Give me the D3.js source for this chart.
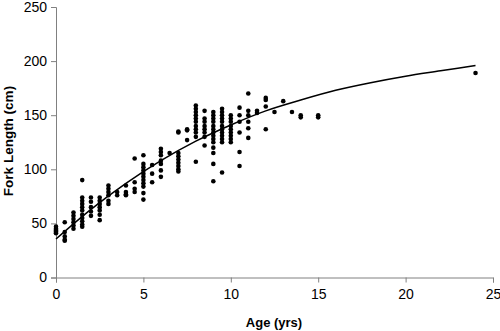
<!DOCTYPE html>
<html><head><meta charset="utf-8">
<script src="https://cdn.jsdelivr.net/npm/d3@7"></script>
<style>body{margin:0;background:#fff}svg{display:block}</style>
</head><body>
<svg id="chart" width="500" height="331"></svg>
<script>
// Observed data: ages (yrs) and fork lengths (cm)
const ages = [
 0,0,0,0,0,0,
 0.5,0.5,0.5,0.5,0.5,
 1,1,1,1,1,1,
 1.5,1.5,1.5,1.5,1.5,1.5,1.5,1.5,1.5,1.5,1.5,
 2,2,2,2,2,
 2.5,2.5,2.5,2.5,2.5,2.5,2.5,
 3,3,3,3,3,3,
 3.5,3.5,
 4,4,4,4,
 4.5,4.5,4.5,4.5,
 5,5,5,5,5,5,5,5,5,5,5,
 5.5,5.5,5.5,
 6,6,6,6,6,6,6,
 6.5,
 7,7,7,7,7,7,7,7,7,
 7.5,7.5,7.5,
 8,8,8,8,8,8,8,8,8,8,8,
 8.5,8.5,8.5,8.5,8.5,8.5,8.5,8.5,
 9,9,9,9,9,9,9,9,9,9,9,9,9,9,
 9.5,9.5,9.5,9.5,9.5,9.5,9.5,9.5,9.5,9.5,9.5,9.5,
 10,10,10,10,10,10,10,10,10,
 10.5,10.5,10.5,10.5,10.5,10.5,
 11,11,11,11,11,11,
 11.5,11.5,
 12,12,12,12,
 12.5,
 13,
 13.5,
 14,14,
 15,15,
 24
];
const lengths = [
 47,45,44,43,42,41,
 51,42,38,35,34,
 60,57,54,51,48,45,
 90,74,71,68,65,62,58,55,52,49,47,
 74,70,65,61,57,
 74,71,68,65,62,58,53,
 85,82,79,76,71,68,
 79,76,
 85,79,77,76,
 110,88,82,79,
 113,105,102,99,96,93,90,87,84,78,72,
 104,96,88,
 119,116,113,108,105,99,93,
 115,
 135,134,112,109,106,103,100,98,115,
 137,136,127,
 159,156,153,150,147,144,140,137,134,130,107,
 154,147,144,140,137,134,130,122,
 153,150,147,144,140,137,134,131,128,125,120,115,105,89,
 156,153,150,147,144,140,137,134,131,128,125,97,
 150,147,144,140,137,134,131,128,125,
 157,150,144,134,116,103,
 170,154,150,144,138,129,
 154,152,
 166,164,158,137,
 153,
 163,
 153,
 150,148,
 150,148,
 189
];
// Fitted growth curve
const curveAges = [0,2,4,6,8,10,12,14,16,18,20,22,24];
const curveLengths = [35.6,63,87,108,126,141,154,164,173,180,186,191,196];

const xTicks = [0,5,10,15,20,25];
const yTicks = [0,50,100,150,200,250];

const svg = d3.select("#chart");
const x = d3.scaleLinear().domain([0,25]).range([56,493]);
const y = d3.scaleLinear().domain([0,250]).range([277.5,7]);
const axisColor = "#808080";
const font = "'Liberation Sans', Arial, sans-serif";

// y axis
const yAxis = svg.append("g").attr("transform","translate(56,0)")
  .call(d3.axisLeft(y).tickValues(yTicks).tickSize(5).tickPadding(4));
// x axis
const xAxis = svg.append("g").attr("transform","translate(0,277.5)")
  .call(d3.axisBottom(x).tickValues(xTicks).tickSize(5).tickPadding(7));
[yAxis,xAxis].forEach(a=>{
  a.select(".domain").attr("stroke",axisColor).attr("stroke-width",1);
  a.selectAll(".tick line").attr("stroke",axisColor);
  a.selectAll("text").attr("fill","#000").style("font-family",font).style("font-size","14px");
});

// points
const pts = ages.map((a,i)=>({a, l:lengths[i]}));
svg.append("g").selectAll("circle").data(pts).join("circle")
  .attr("cx",d=>x(d.a)).attr("cy",d=>y(d.l)).attr("r",2.3)
  .attr("fill","#000");

// fitted curve
const line = d3.line().x((d,i)=>x(curveAges[i])).y(d=>y(d)).curve(d3.curveMonotoneX);
svg.append("path").datum(curveLengths).attr("d",line)
  .attr("fill","none").attr("stroke","#000").attr("stroke-width",1.5);

// axis titles
svg.append("text").attr("x",274).attr("y",327).attr("text-anchor","middle")
  .style("font-family",font).style("font-size","13px").style("font-weight","bold")
  .text("Age (yrs)");
svg.append("text").attr("transform","translate(13,141) rotate(-90)").attr("text-anchor","middle")
  .style("font-family",font).style("font-size","13.5px").style("font-weight","bold")
  .text("Fork Length (cm)");
</script>
</body></html>
